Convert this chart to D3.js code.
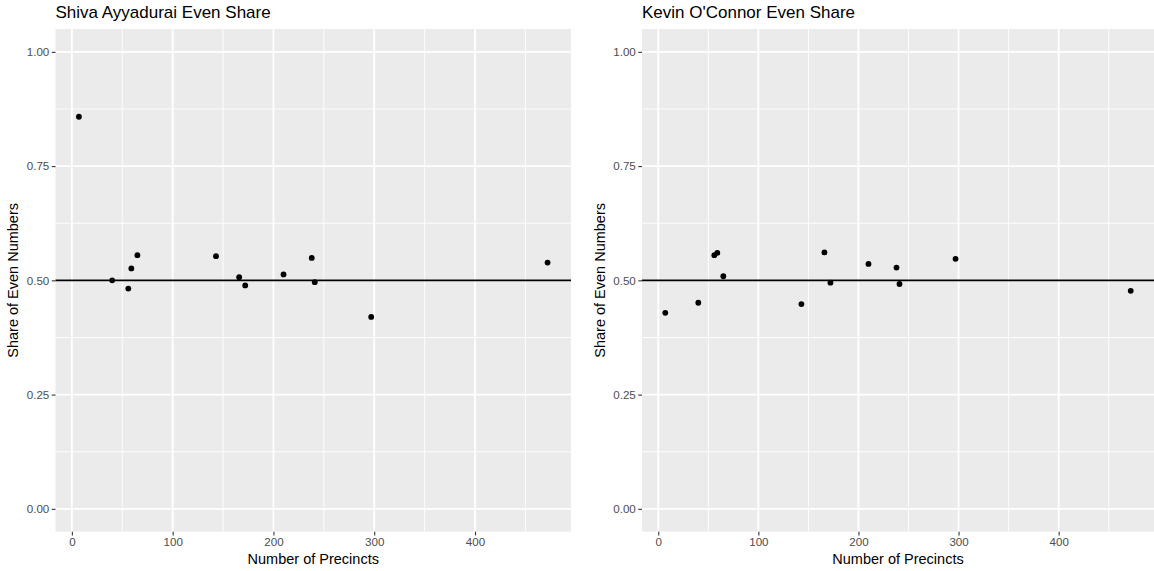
<!DOCTYPE html>
<html>
<head>
<meta charset="utf-8">
<script src="https://cdn.jsdelivr.net/npm/d3@7"></script>
<style>
  html, body { margin: 0; padding: 0; background: #fff; }
  svg { display: block; font-family: "Liberation Sans", Arial, sans-serif; }
</style>
</head>
<body>
<svg id="chart" width="1154" height="571"></svg>
<script>
// Precinct counts per county (shared by both panels)
const precincts = [7, 40, 56, 59, 65, 143, 166, 172, 210, 238, 241, 297, 472];
// Share of even vote counts per county
const ayyaduraiShare = [0.858, 0.500, 0.482, 0.526, 0.555, 0.553, 0.507, 0.489, 0.513, 0.549, 0.496, 0.420, 0.539];
const oconnorShare   = [0.429, 0.451, 0.555, 0.560, 0.509, 0.448, 0.561, 0.495, 0.536, 0.528, 0.492, 0.547, 0.477];
const panelTitles = ["Shiva Ayyadurai Even Share", "Kevin O'Connor Even Share"];
const xTicks = [0, 100, 200, 300, 400];
const xMinor = [50, 150, 250, 350, 450];
const yTicks = [0, 0.25, 0.5, 0.75, 1];
const yMinor = [0.125, 0.375, 0.625, 0.875];
const referenceShare = 0.5;

const svg = d3.select("#chart");

// x domain: data range expanded by 5% on each side
const ext = d3.extent(precincts);
const pad = (ext[1] - ext[0]) * 0.05;
const xDomain = [ext[0] - pad, ext[1] + pad];
const yDomain = [-0.05, 1.05];

const panels = [
  { title: panelTitles[0], values: ayyaduraiShare, left: 55.5, right: 571 },
  { title: panelTitles[1], values: oconnorShare, left: 642, right: 1154 }
];
const panelTop = 29, panelBottom = 531.7;

panels.forEach(p => {
  const x = d3.scaleLinear().domain(xDomain).range([p.left, p.right]);
  const y = d3.scaleLinear().domain(yDomain).range([panelBottom, panelTop]);
  const g = svg.append("g");

  g.append("rect")
    .attr("x", p.left).attr("y", panelTop)
    .attr("width", p.right - p.left).attr("height", panelBottom - panelTop)
    .attr("fill", "#EBEBEB");

  // minor grid
  g.selectAll(".ymin").data(yMinor).join("line")
    .attr("x1", p.left).attr("x2", p.right)
    .attr("y1", d => y(d)).attr("y2", d => y(d))
    .attr("stroke", "#fff").attr("stroke-width", 0.9);
  g.selectAll(".xmin").data(xMinor.filter(d => x(d) <= p.right)).join("line")
    .attr("y1", panelTop).attr("y2", panelBottom)
    .attr("x1", d => x(d)).attr("x2", d => x(d))
    .attr("stroke", "#fff").attr("stroke-width", 0.9);
  // major grid
  g.selectAll(".ymaj").data(yTicks).join("line")
    .attr("x1", p.left).attr("x2", p.right)
    .attr("y1", d => y(d)).attr("y2", d => y(d))
    .attr("stroke", "#fff").attr("stroke-width", 1.8);
  g.selectAll(".xmaj").data(xTicks).join("line")
    .attr("y1", panelTop).attr("y2", panelBottom)
    .attr("x1", d => x(d)).attr("x2", d => x(d))
    .attr("stroke", "#fff").attr("stroke-width", 1.8);

  // reference line at one half
  g.append("line")
    .attr("x1", p.left).attr("x2", p.right)
    .attr("y1", y(referenceShare)).attr("y2", y(referenceShare))
    .attr("stroke", "#000").attr("stroke-width", 1.6);

  // points
  g.selectAll("circle").data(precincts.map((n, i) => ({ n, v: p.values[i] }))).join("circle")
    .attr("cx", d => x(d.n)).attr("cy", d => y(d.v))
    .attr("r", 2.9).attr("fill", "#000");

  // axes
  const xAxis = d3.axisBottom(x).tickValues(xTicks).tickSize(3.7).tickPadding(2.5).tickFormat(d3.format("d"));
  const gx = g.append("g").attr("transform", `translate(0,${panelBottom})`).call(xAxis);
  const yAxis = d3.axisLeft(y).tickValues(yTicks).tickSize(3.7).tickPadding(2.5).tickFormat(d3.format(".2f"));
  const gy = g.append("g").attr("transform", `translate(${p.left},0)`).call(yAxis);
  [gx, gy].forEach(a => {
    a.select(".domain").remove();
    a.selectAll(".tick line").attr("stroke", "#333333").attr("stroke-width", 1.1);
    a.selectAll(".tick text").attr("fill", "#4D4D4D").style("font-size", "11.6px")
      .style("font-family", "'Liberation Sans', Arial, sans-serif");
  });

  // titles
  g.append("text")
    .attr("x", p.left).attr("y", 18)
    .attr("fill", "#000").style("font-size", "17px")
    .text(p.title);
  g.append("text")
    .attr("x", (p.left + p.right) / 2).attr("y", 563.5)
    .attr("text-anchor", "middle").attr("fill", "#000").style("font-size", "14.5px")
    .text("Number of Precincts");
  g.append("text")
    .attr("transform", `translate(${p.left - 37.5},${(panelTop + panelBottom) / 2}) rotate(-90)`)
    .attr("text-anchor", "middle").attr("fill", "#000").style("font-size", "14.5px")
    .text("Share of Even Numbers");
});
</script>
</body>
</html>
